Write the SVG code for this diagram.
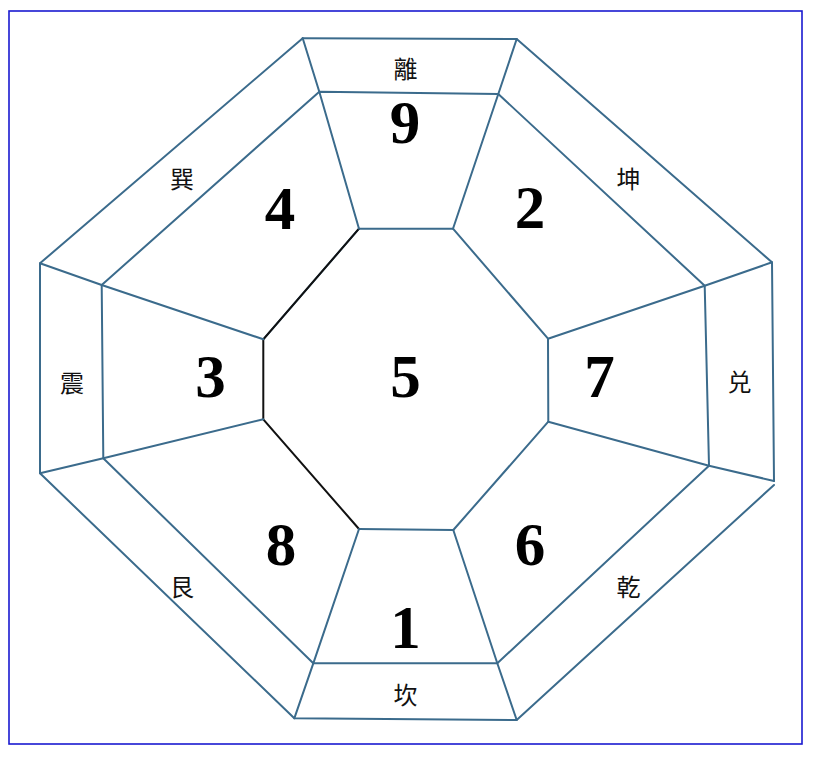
<svg xmlns="http://www.w3.org/2000/svg" width="814" height="760" viewBox="0 0 814 760">
<style>
.ln{stroke:#3b6b8c;stroke-width:2;fill:none;stroke-linecap:round;stroke-linejoin:round}
.bk{stroke:#111;stroke-width:2;fill:none;stroke-linecap:round}
.num{font-family:"Liberation Serif","DejaVu Serif",serif;font-weight:bold;font-size:61px;fill:#000;text-anchor:middle}
.tri{font-family:"Noto Sans CJK SC","Noto Sans CJK JP",sans-serif;font-size:24px;fill:#111;text-anchor:middle;dominant-baseline:central}
</style>
<rect width="814" height="760" fill="#fff"/>
<rect x="9" y="11" width="793" height="733" fill="none" stroke="#1a1ad0" stroke-width="1.6"/>
<g id="connectors">
<polyline class="ln" points="302.7,38.3 516.7,39 772,262.3 774,481"/>
<polyline class="ln" points="774,485 516.7,720 294.3,718.3 40,473.3 40,263.3 302.7,38.3"/>
<polygon class="ln" points="319.3,91.7 498.3,94 704.7,285.7 709,465.7 497.3,663.3 313.3,663.3 103.3,458.3 101.7,285"/>
<polyline class="ln" points="263.3,339.3 359,228.7 453,228.7 548,338.7 548.3,421.7 453.3,530 359,529"/>
<polyline class="bk" points="359,529 263.3,419.3 263.3,339.3 359,228.7"/>
<polyline class="ln" points="302.7,38.3 319.3,91.7 359,228.7"/>
<polyline class="ln" points="516.7,39 498.3,94 453,228.7"/>
<polyline class="ln" points="772,262.3 704.7,285.7 548,338.7"/>
<polyline class="ln" points="774,481 709,465.7 548.3,421.7"/>
<polyline class="ln" points="516.7,720 497.3,663.3 453.3,530"/>
<polyline class="ln" points="294.3,718.3 313.3,663.3 359,529"/>
<polyline class="ln" points="40,473.3 103.3,458.3 263.3,419.3"/>
<polyline class="ln" points="40,263.3 101.7,285 263.3,339.3"/>
</g>
<g id="palace-9"><text class="num" x="405" y="143">9</text></g>
<g id="palace-4"><text class="num" x="280" y="229">4</text></g>
<g id="palace-2"><text class="num" x="530" y="228">2</text></g>
<g id="palace-3"><text class="num" x="210.5" y="397">3</text></g>
<g id="palace-5"><text class="num" x="405.5" y="397">5</text></g>
<g id="palace-7"><text class="num" x="599.5" y="397">7</text></g>
<g id="palace-8"><text class="num" x="281" y="565">8</text></g>
<g id="palace-6"><text class="num" x="530" y="565">6</text></g>
<g id="palace-1"><text class="num" x="405.5" y="648">1</text></g>
<g id="tri-li"><text class="tri" x="405.5" y="67">離</text></g>
<g id="tri-xun"><text class="tri" x="182" y="177">巽</text></g>
<g id="tri-kun"><text class="tri" x="628.5" y="177">坤</text></g>
<g id="tri-zhen"><text class="tri" x="72" y="381">震</text></g>
<g id="tri-dui"><text class="tri" x="739.5" y="380">兑</text></g>
<g id="tri-gen"><text class="tri" x="182" y="585">艮</text></g>
<g id="tri-qian"><text class="tri" x="628.5" y="585">乾</text></g>
<g id="tri-kan"><text class="tri" x="405.5" y="693">坎</text></g>
</svg>
